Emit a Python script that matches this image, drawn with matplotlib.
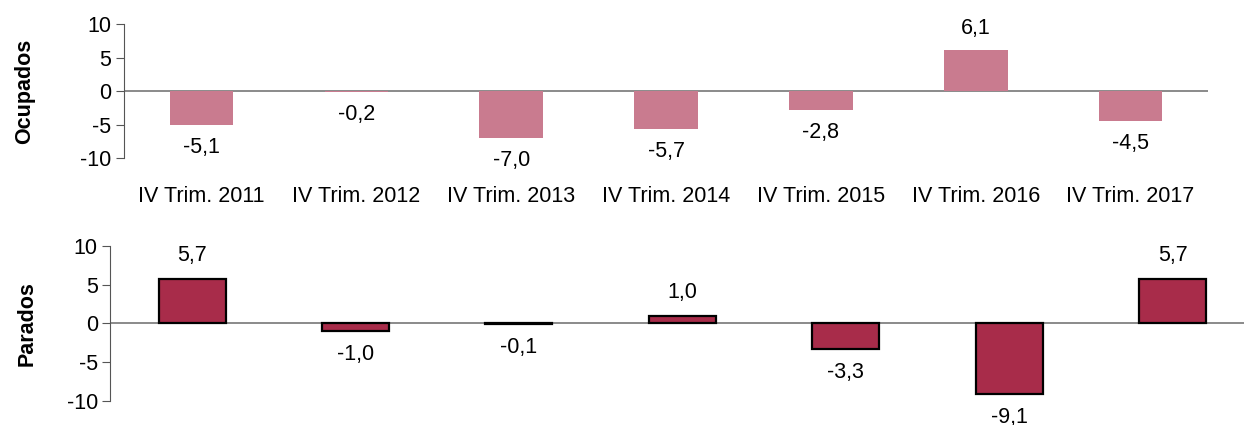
import matplotlib
matplotlib.use("Agg")
import matplotlib.pyplot as plt

plt.rcParams['font.family'] = ['Liberation Sans', 'DejaVu Sans']

# datos
categorias = ['IV Trim. 2011', 'IV Trim. 2012', 'IV Trim. 2013', 'IV Trim. 2014',
              'IV Trim. 2015', 'IV Trim. 2016', 'IV Trim. 2017']
ocupados = [-5.1, -0.2, -7.0, -5.7, -2.8, 6.1, -4.5]
parados = [5.7, -1.0, -0.1, 1.0, -3.3, -9.1, 5.7]

color_ocup = '#C97B8F'
color_par = '#A82C4A'
fs = 15.5


def fmt(v):
    return f'{v:.1f}'.replace('.', ',')


def estilo(ax, nombre, ylab_x):
    ax.set_ylim(-10, 10)
    ax.set_xlim(-0.5, len(categorias) - 0.5)
    ax.set_yticks([10, 5, 0, -5, -10])
    ax.set_yticklabels(['10', '5', '0', '-5', '-10'])
    for s in ['top', 'right', 'bottom']:
        ax.spines[s].set_visible(False)
    ax.spines['left'].set_color('#555555')
    ax.axhline(0, color='#777777', lw=1.2, zorder=1)
    ax.tick_params(axis='y', direction='out', length=6, color='#555555', labelsize=fs, pad=3)
    ax.set_ylabel(nombre, fontsize=fs, fontweight='bold')
    ax.yaxis.set_label_coords(ylab_x, 0.5)


fig = plt.figure(figsize=(12.44, 4.25), dpi=100)

# Ocupados
ax1 = fig.add_axes([0.0997, 0.628, 0.8714, 0.3153])
x = range(len(categorias))
ax1.bar(x, ocupados, width=0.41, color=color_ocup, zorder=2)
estilo(ax1, 'Ocupados', -0.082)
ax1.set_xticks(list(x))
ax1.set_xticklabels(categorias, fontsize=fs)
ax1.tick_params(axis='x', length=0, pad=20)
for i, v in enumerate(ocupados):
    off = 16 if v >= 0 else -16
    ax1.annotate(fmt(v), (i, v), xytext=(0, off), textcoords='offset points',
                 ha='center', va='center', fontsize=fs)

# Parados
ax2 = fig.add_axes([0.0887, 0.0565, 0.9196, 0.3647])
ax2.bar(x, parados, width=0.41, color=color_par, edgecolor='black', linewidth=1.6, zorder=2)
estilo(ax2, 'Parados', -0.064)
ax2.set_xticks([])
for i, v in enumerate(parados):
    off = 17 if v >= 0 else -17
    ax2.annotate(fmt(v), (i, v), xytext=(0, off), textcoords='offset points',
                 ha='center', va='center', fontsize=fs, annotation_clip=False)

fig.savefig('out.png', dpi=100)
